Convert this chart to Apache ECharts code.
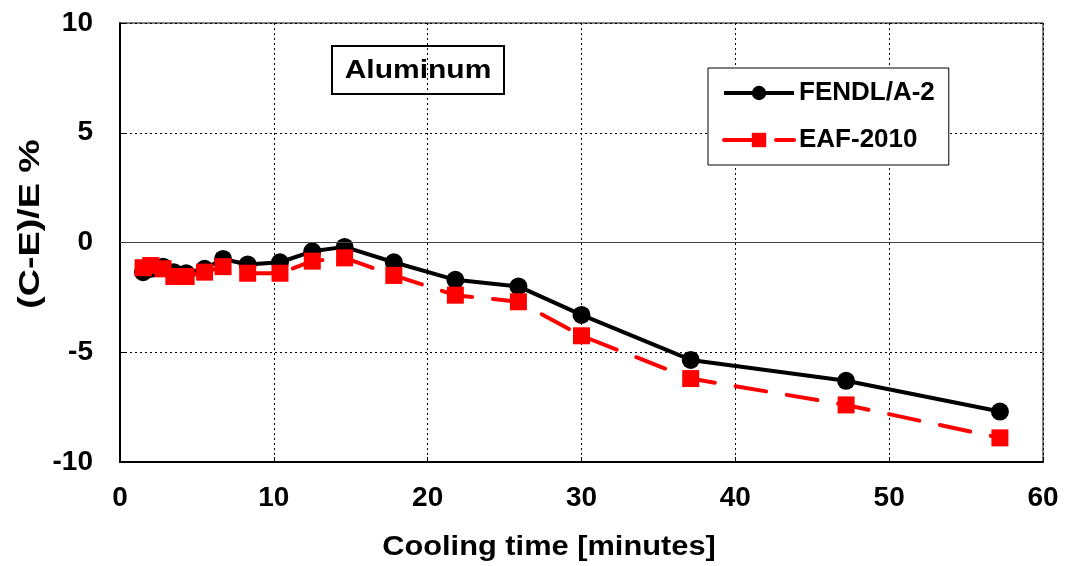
<!DOCTYPE html>
<html>
<head>
<meta charset="utf-8">
<script src="https://cdn.jsdelivr.net/npm/echarts@6/dist/echarts.min.js"></script>
<style>html,body{margin:0;padding:0;background:#fff}#c{width:1065px;height:566px}</style>
</head>
<body>
<div id="c"></div>
<script>
var coolingTime = [1.5, 2.0, 2.8, 3.5, 4.3, 5.5, 6.7, 8.3, 10.4, 12.5, 14.6, 17.8, 21.8, 25.9, 30.0, 37.1, 47.2, 57.2];
var fendl = [-1.35, -1.2, -1.1, -1.35, -1.4, -1.2, -0.75, -1.0, -0.9, -0.4, -0.2, -0.9, -1.7, -2.0, -3.3, -5.35, -6.3, -7.7];
var eaf = [-1.15, -1.05, -1.2, -1.55, -1.55, -1.35, -1.1, -1.4, -1.4, -0.85, -0.7, -1.5, -2.4, -2.7, -4.25, -6.2, -7.4, -8.9];
var seriesNames = ['FENDL/A-2', 'EAF-2010'];
var chartTitle = 'Aluminum';
var xAxisName = 'Cooling time [minutes]';
var yAxisName = '(C-E)/E %';

function pairs(xs, ys) { return xs.map(function (x, i) { return [x, ys[i]]; }); }

var font = 'Liberation Sans, Arial, sans-serif';
var chart = echarts.init(document.getElementById('c'));
chart.setOption({
  animation: false,
  grid: { left: 120, right: 22, top: 23, bottom: 104, show: true, borderColor: '#000', borderWidth: 1 },
  xAxis: {
    type: 'value', min: 0, max: 60, interval: 10,
    axisLine: { onZero: false, lineStyle: { color: '#000', width: 2 } },
    axisTick: { inside: true, length: 5, lineStyle: { color: '#000' } },
    axisLabel: { fontFamily: font, fontWeight: 'bold', fontSize: 28, color: '#000', margin: 22 },
    splitLine: { show: true, lineStyle: { color: '#000', type: [2, 3], width: 1 } }
  },
  yAxis: {
    type: 'value', min: -10, max: 10, interval: 5,
    axisLine: { lineStyle: { color: '#000', width: 2 } },
    axisTick: { inside: true, length: 5, lineStyle: { color: '#000' } },
    axisLabel: { fontFamily: font, fontWeight: 'bold', fontSize: 28, color: '#000', margin: 27 },
    splitLine: { show: true, lineStyle: { color: '#000', type: [2, 3], width: 1 } }
  },
  legend: {
    orient: 'vertical', left: 708, top: 68,
    backgroundColor: '#fff', borderColor: '#000', borderWidth: 1,
    padding: [12, 14, 12, 14], itemGap: 21, itemWidth: 70, itemHeight: 18,
    lineStyle: { width: 4 },
    textStyle: { fontFamily: font, fontWeight: 'bold', fontSize: 26, color: '#000' },
    data: seriesNames
  },
  graphic: [
    {
      type: 'group', left: 331, top: 45,
      children: [
        { type: 'rect', shape: { x: 0, y: 0, width: 172, height: 48 }, style: { fill: '#fff', stroke: '#000', lineWidth: 2 } },
        { type: 'text', x: 86, y: 25, scaleX: 1.2, style: { text: chartTitle, fontFamily: font, fontWeight: 'bold', fontSize: 25, fill: '#000', align: 'center', verticalAlign: 'middle' } }
      ]
    },
    { type: 'text', x: 549, y: 547, scaleX: 1.1, style: { text: xAxisName, fontFamily: font, fontWeight: 'bold', fontSize: 28, fill: '#000', align: 'center', verticalAlign: 'middle' } },
    { type: 'text', x: 31, y: 224, rotation: Math.PI / 2, scaleX: 1.3, style: { text: yAxisName, fontFamily: font, fontWeight: 'bold', fontSize: 29, fill: '#000', align: 'center', verticalAlign: 'middle' } }
  ],
  series: [
    {
      name: seriesNames[0], type: 'line', data: pairs(coolingTime, fendl),
      symbol: 'circle', symbolSize: 18, z: 3,
      lineStyle: { color: '#000', width: 4 },
      itemStyle: { color: '#000' },
      markLine: {
        silent: true, symbol: 'none', label: { show: false },
        lineStyle: { color: '#444', type: 'solid', width: 1 },
        data: [{ yAxis: 0 }]
      }
    },
    {
      name: seriesNames[1], type: 'line', data: pairs(coolingTime, eaf),
      symbol: 'rect', symbolSize: 17, z: 4,
      lineStyle: { color: '#ff0000', width: 4, type: [31, 21], cap: 'round' },
      itemStyle: { color: '#ff0000' }
    }
  ]
});
</script>
</body>
</html>
